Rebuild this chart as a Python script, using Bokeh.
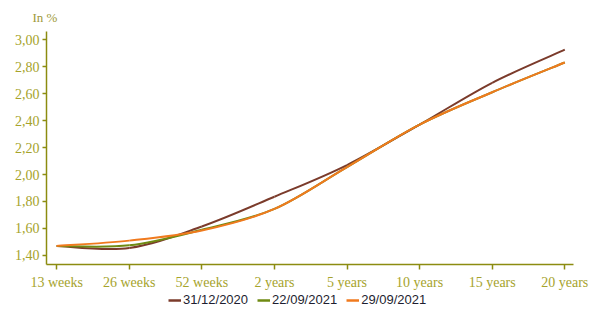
from bokeh.plotting import figure
from bokeh.layouts import column
from bokeh.models import Range1d, FixedTicker, Legend, LegendItem
from bokeh.embed import file_html
from bokeh.resources import INLINE

maturities = ["13 weeks", "26 weeks", "52 weeks", "2 years", "5 years", "10 years", "15 years", "20 years"]
s_2020_12_31 = [1.47, 1.455, 1.615, 1.835, 2.07, 2.37, 2.68, 2.925]
s_2021_09_22 = [1.47, 1.475, 1.59, 1.745, 2.055, 2.37, 2.61, 2.83]
s_2021_09_29 = [1.47, 1.51, 1.585, 1.745, 2.055, 2.37, 2.61, 2.83]
y_ticks = [1.4, 1.6, 1.8, 2.0, 2.2, 2.4, 2.6, 2.8, 3.0]
y_tick_labels = ["1,40", "1,60", "1,80", "2,00", "2,20", "2,40", "2,60", "2,80", "3,00"]

series = [
    ("31/12/2020", s_2020_12_31, "#7b3b2b"),
    ("22/09/2021", s_2021_09_22, "#6f8a12"),
    ("29/09/2021", s_2021_09_29, "#f07a1e"),
]

OLIVE = "#8c8c10"
LABEL = "#a6a32c"

p = figure(width=598, height=293, output_backend="svg", toolbar_location=None,
           x_range=Range1d(-0.14, 7.12), y_range=Range1d(1.333, 3.06),
           min_border_left=46, min_border_right=25, min_border_top=31, min_border_bottom=29)
p.outline_line_color = None
p.xgrid.visible = False
p.ygrid.visible = False

p.title.text = "In %"
p.title.align = "left"
p.title.offset = -14
p.title.standoff = 13
p.title.text_font = "Liberation Serif"
p.title.text_font_size = "13px"
p.title.text_font_style = "normal"
p.title.text_color = "#a09a3a"

idx = list(range(len(maturities)))


def smooth_bezier(xs, ys):
    """Catmull-Rom spline through the data points, as Bezier segments."""
    n = len(xs)
    out = dict(x0=[], y0=[], x1=[], y1=[], cx0=[], cy0=[], cx1=[], cy1=[])
    for i in range(n - 1):
        xm = xs[i - 1] if i > 0 else xs[i]
        ym = ys[i - 1] if i > 0 else ys[i]
        xp = xs[i + 2] if i + 2 < n else xs[i + 1]
        yp = ys[i + 2] if i + 2 < n else ys[i + 1]
        out["x0"].append(xs[i]); out["y0"].append(ys[i])
        out["x1"].append(xs[i + 1]); out["y1"].append(ys[i + 1])
        out["cx0"].append(xs[i] + (xs[i + 1] - xm) / 6.0)
        out["cy0"].append(ys[i] + (ys[i + 1] - ym) / 6.0)
        out["cx1"].append(xs[i + 1] - (xp - xs[i]) / 6.0)
        out["cy1"].append(ys[i + 1] - (yp - ys[i]) / 6.0)
    return out


for name, vals, col in series:
    d = smooth_bezier(idx, vals)
    p.bezier(line_color=col, line_width=2, **d)

for ax in (p.xaxis[0], p.yaxis[0]):
    ax.axis_line_color = OLIVE
    ax.axis_line_width = 1.5
    ax.major_tick_line_color = OLIVE
    ax.major_tick_line_width = 1.5
    ax.minor_tick_line_color = None
    ax.major_tick_in = 0
    ax.major_label_text_color = LABEL
    ax.major_label_text_font = "Liberation Serif"
    ax.major_label_text_font_size = "14px"

p.xaxis.ticker = FixedTicker(ticks=idx)
p.xaxis.major_label_overrides = {i: m for i, m in zip(idx, maturities)}
p.xaxis.major_tick_out = 5
p.xaxis.major_label_standoff = 5

p.yaxis.ticker = FixedTicker(ticks=y_ticks)
p.yaxis.major_label_overrides = {t: l for t, l in zip(y_ticks, y_tick_labels)}
p.yaxis.major_tick_out = 4
p.yaxis.major_label_standoff = 3

# legend strip
lg = figure(width=598, height=20, output_backend="svg", toolbar_location=None,
            x_range=Range1d(0, 598), y_range=Range1d(0, 20),
            x_axis_type=None, y_axis_type=None,
            min_border_left=0, min_border_right=0, min_border_top=0, min_border_bottom=0)
lg.outline_line_color = None
lg.xgrid.visible = False
lg.ygrid.visible = False
items = []
for name, vals, col in series:
    r = lg.line(x=[-100, -99], y=[-100, -100], line_color=col, line_width=2.5)
    items.append(LegendItem(label=name, renderers=[r]))
legend = Legend(items=items, orientation="horizontal", location=(122, 6),
                padding=0, margin=0, spacing=9, label_standoff=2,
                glyph_width=13, glyph_height=14, label_height=14,
                label_text_font="Liberation Sans", label_text_font_size="13px",
                label_text_color="#1e1e30", border_line_color=None,
                background_fill_alpha=0)
lg.add_layout(legend, "center")

layout = column(p, lg, spacing=0)
open("out.html", "w").write(file_html(layout, INLINE))
